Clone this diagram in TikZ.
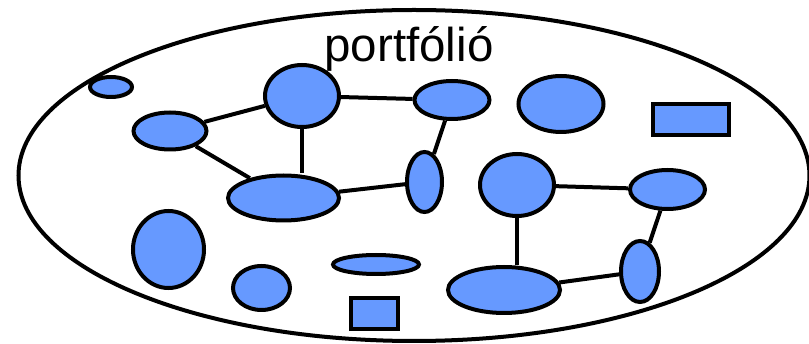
\documentclass[tikz,border=0pt]{standalone}
\usepackage{fontspec}
\setmainfont{Liberation Sans}
\usetikzlibrary{shapes.geometric}
\definecolor{itemblue}{RGB}{102,153,255}
\tikzset{
  lw/.style={line width=4pt},
  item/.style={ellipse, draw, lw, fill=itemblue, inner sep=0pt},
  box/.style={rectangle, draw, lw, fill=itemblue, inner sep=0pt},
  link/.style={draw, lw},
}
\begin{document}
\begin{tikzpicture}[x=1pt,y=-1pt]
\useasboundingbox (0,0) rectangle (809,344);
% outer portfolio boundary
\node[ellipse, draw, lw, minimum width=791pt, minimum height=331pt, inner sep=0pt] (pf) at (414,175.5) {};
\node[anchor=base, font=\fontsize{47.5}{57}\selectfont] (title) at (409,62) {portfólió};

% projects
\node[item, minimum width=42pt, minimum height=20pt] (a) at (111,87) {};
\node[item, minimum width=73pt, minimum height=37pt] (b) at (170,131) {};
\node[item, minimum width=74pt, minimum height=62pt] (c) at (302,96) {};
\node[item, minimum width=75pt, minimum height=38pt] (d) at (452,100) {};
\node[item, minimum width=85pt, minimum height=56pt] (e) at (561,104) {};
\node[box, minimum width=76pt, minimum height=31pt] (f) at (691,119.5) {};
\node[item, minimum width=111pt, minimum height=45pt] (g) at (283.5,198) {};
\node[item, minimum width=35pt, minimum height=60pt] (h) at (424.5,182) {};
\node[item, minimum width=74pt, minimum height=62pt] (i) at (517,185) {};
\node[item, minimum width=75pt, minimum height=39pt] (j) at (667.5,189.5) {};
\node[item, minimum width=38pt, minimum height=61pt] (k) at (640,271.5) {};
\node[item, minimum width=112pt, minimum height=46pt] (l) at (504,290) {};
\node[item, minimum width=86pt, minimum height=19pt] (m) at (376,264.5) {};
\node[box, minimum width=47pt, minimum height=31pt] (n) at (374.5,313.5) {};
\node[item, minimum width=71pt, minimum height=77pt] (o) at (168.5,249.5) {};
\node[item, minimum width=57pt, minimum height=44pt] (p) at (261.5,288) {};

% dependencies
\draw[link] (b) -- (c);
\draw[link] (b) -- (g);
\draw[link] (c.south) -- (c.south |- g.north);
\draw[link] (c) -- (d);
\draw[link] (d) -- (h);
\draw[link] (g) -- (h);
\draw[link] (i) -- (j);
\draw[link] (i.south) -- (i.south |- l.north);
\draw[link] (j) -- (k);
\draw[link] (k) -- (l);
\end{tikzpicture}
\end{document}
